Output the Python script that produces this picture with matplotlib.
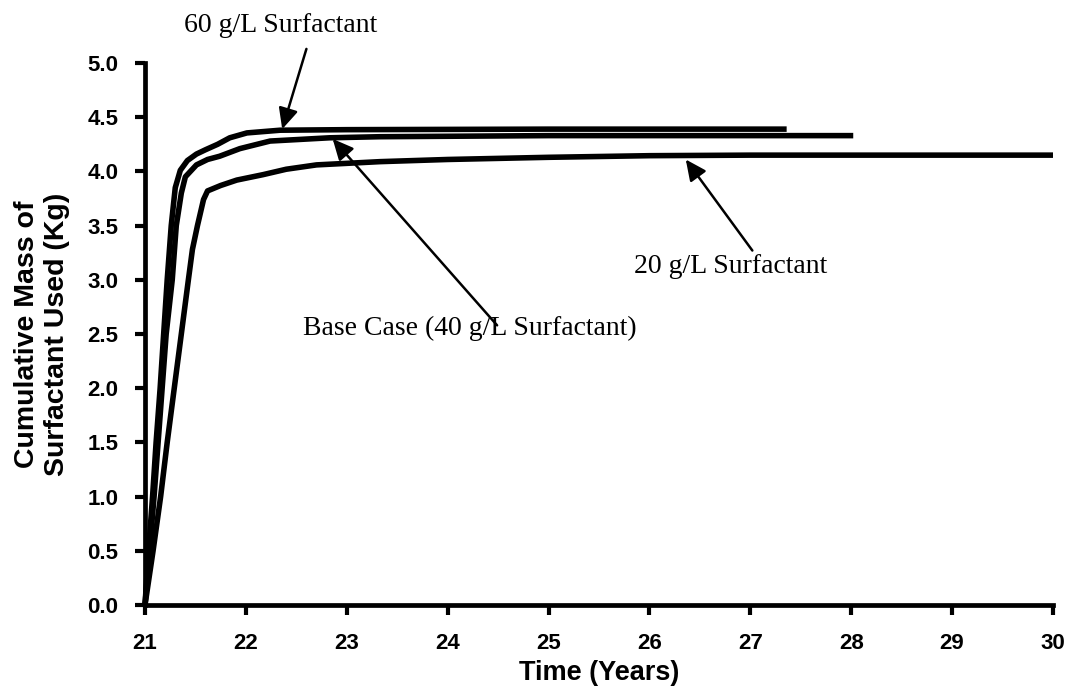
import matplotlib
matplotlib.use("Agg")
import matplotlib.pyplot as plt

# ---- data ----
t_60 = [21.0, 21.035, 21.075, 21.11, 21.15, 21.185, 21.22, 21.26, 21.30, 21.35,
        21.42, 21.51, 21.60, 21.72, 21.84, 22.01, 22.34, 23.0, 25.0, 27.36]
m_60 = [0.0, 0.5, 1.0, 1.5, 2.0, 2.5, 3.0, 3.5, 3.85, 4.01,
        4.10, 4.16, 4.20, 4.25, 4.31, 4.355, 4.38, 4.385, 4.39, 4.39]

t_40 = [21.0, 21.045, 21.09, 21.13, 21.17, 21.21, 21.27, 21.31, 21.36, 21.40,
        21.51, 21.62, 21.74, 21.94, 22.24, 22.83, 23.33, 25.0, 28.02]
m_40 = [0.0, 0.5, 1.0, 1.5, 2.0, 2.5, 3.0, 3.5, 3.8, 3.95,
        4.06, 4.11, 4.14, 4.21, 4.28, 4.31, 4.32, 4.33, 4.33]

t_20 = [21.0, 21.08, 21.155, 21.22, 21.29, 21.36, 21.43, 21.47, 21.52, 21.58,
        21.62, 21.75, 21.91, 22.17, 22.40, 22.70, 23.33, 24.0, 25.0, 26.0, 27.0, 30.0]
m_20 = [0.0, 0.5, 1.0, 1.5, 2.0, 2.5, 3.0, 3.28, 3.5, 3.74,
        3.82, 3.87, 3.92, 3.97, 4.02, 4.06, 4.09, 4.11, 4.13, 4.145, 4.15, 4.15]

x_ticks = [21, 22, 23, 24, 25, 26, 27, 28, 29, 30]
y_ticks = [0.0, 0.5, 1.0, 1.5, 2.0, 2.5, 3.0, 3.5, 4.0, 4.5, 5.0]

labels = ["60 g/L Surfactant", "Base Case (40 g/L Surfactant)", "20 g/L Surfactant"]

# ---- figure ----
fig = plt.figure(figsize=(10.69, 6.92), dpi=100)
ax = fig.add_axes([145 / 1069, 1 - 605 / 692, 908 / 1069, 542 / 692])

for t, m in [(t_60, m_60), (t_40, m_40), (t_20, m_20)]:
    ax.plot(t, m, color="black", lw=4.0, solid_capstyle="butt",
            solid_joinstyle="round", clip_on=False)

ax.set_xlim(21, 30)
ax.set_ylim(0, 5)
ax.set_xticks(x_ticks)
ax.set_yticks(y_ticks)
ax.set_xticklabels([str(v) for v in x_ticks])
ax.set_yticklabels([f"{v:.1f}" for v in y_ticks])

for s in ["top", "right"]:
    ax.spines[s].set_visible(False)
for s in ["left", "bottom"]:
    ax.spines[s].set_linewidth(3.4)
    ax.spines[s].set_color("black")

ax.tick_params(axis="both", direction="out", length=7, width=3.0,
               labelsize=16, color="black")
ax.tick_params(axis="x", pad=13)
ax.tick_params(axis="y", pad=12)
for lab in ax.get_xticklabels() + ax.get_yticklabels():
    lab.set_fontfamily("Liberation Sans")
    lab.set_fontweight("bold")

ax.set_xlabel("Time (Years)", fontsize=19.5, fontweight="bold",
              family="Liberation Sans", va="center")
ax.xaxis.set_label_coords(0.5, (605 - 673) / 542)
ax.set_ylabel("Cumulative Mass of\nSurfactant Used (Kg)", fontsize=20.5,
              fontweight="bold", family="Liberation Sans", va="center",
              linespacing=1.15)
ax.yaxis.set_label_coords((42 - 145) / 908, 0.5)

arrow = dict(arrowstyle="-|>,head_length=0.7,head_width=0.33", color="black",
             lw=1.8, mutation_scale=18, shrinkA=0, shrinkB=0)

# 60 g/L
ax.annotate("", xy=(22.36, 4.39), xytext=(22.60, 5.13), arrowprops=arrow,
            annotation_clip=False)
ax.text(22.34, 5.35, labels[0], fontsize=20, family="Liberation Serif",
        ha="center", va="center", clip_on=False)
# Base case
ax.annotate("", xy=(22.86, 4.30), xytext=(24.49, 2.58), arrowprops=arrow,
            annotation_clip=False)
ax.text(24.22, 2.555, labels[1], fontsize=20, family="Liberation Serif",
        ha="center", va="center")
# 20 g/L
ax.annotate("", xy=(26.36, 4.11), xytext=(27.02, 3.27), arrowprops=arrow,
            annotation_clip=False)
ax.text(26.80, 3.12, labels[2], fontsize=20, family="Liberation Serif",
        ha="center", va="center")

fig.savefig("out.png", dpi=100)
